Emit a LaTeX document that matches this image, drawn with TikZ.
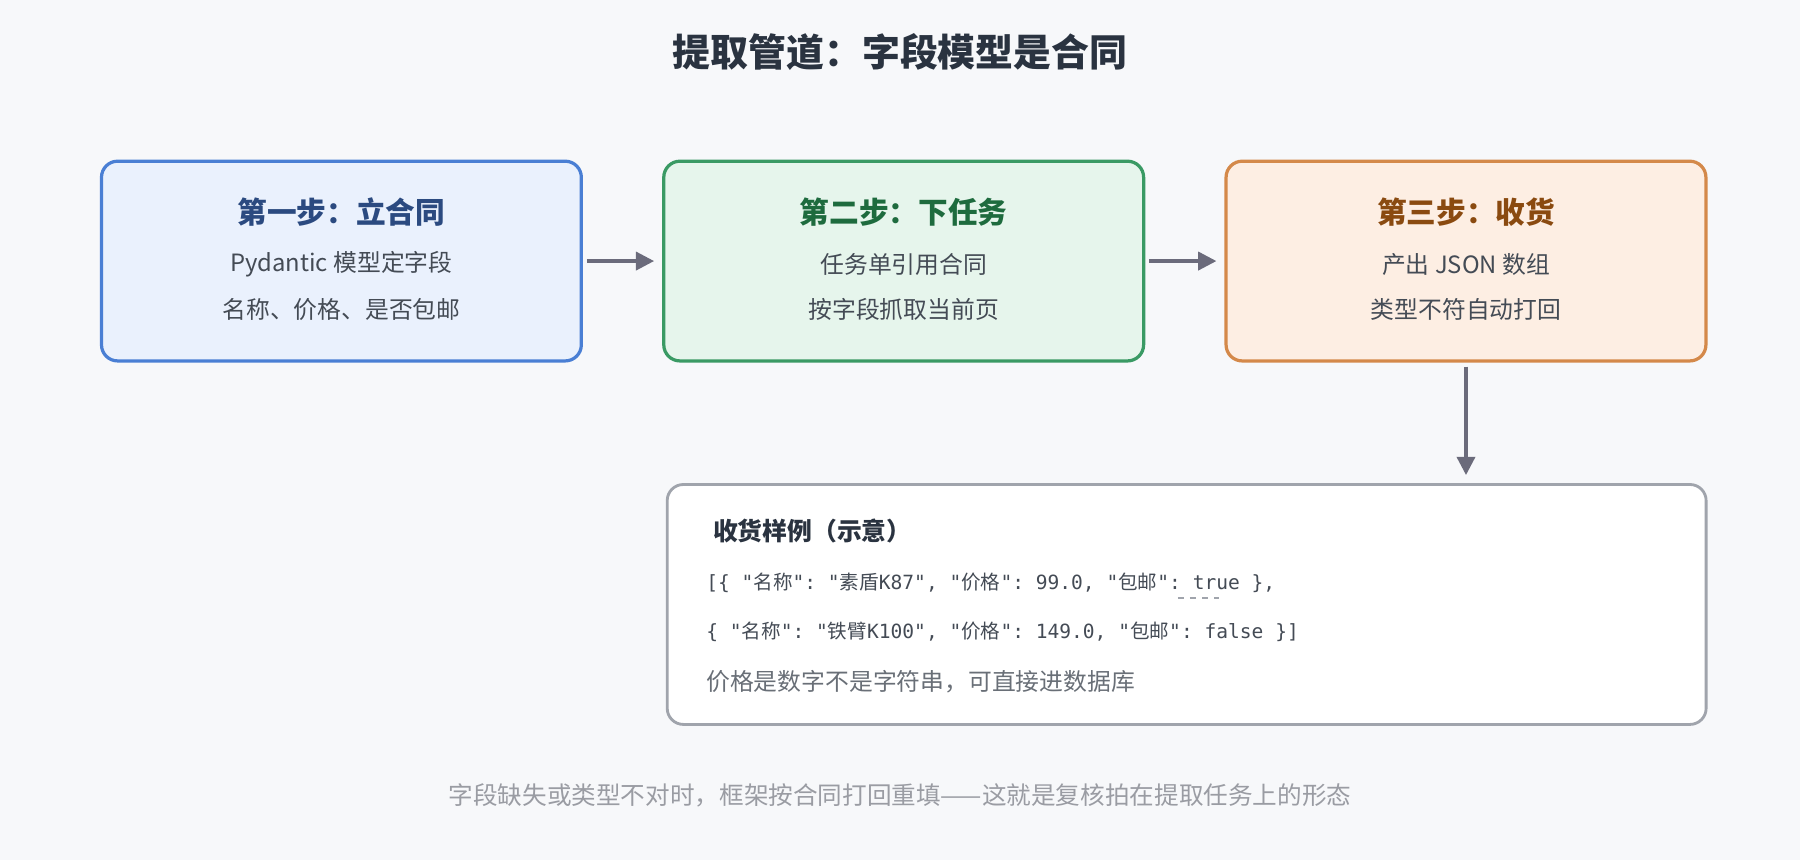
\documentclass[tikz,border=0pt]{standalone}
\usepackage{fontspec}
\setmainfont{Noto Sans CJK SC}
\setmonofont{DejaVu Sans Mono}
\newfontfamily\zhfont{Noto Sans CJK SC}
\newcommand{\zh}[1]{{\zhfont #1}}
\usetikzlibrary{arrows.meta, positioning, calc}

\definecolor{bgc}{HTML}{F7F8FA}
\definecolor{bluefill}{HTML}{EAF1FD}
\definecolor{bluedraw}{HTML}{4A7FD4}
\definecolor{bluetext}{HTML}{2B4A80}
\definecolor{greenfill}{HTML}{E6F5EC}
\definecolor{greendraw}{HTML}{3A9A64}
\definecolor{greentext}{HTML}{1E6B3E}
\definecolor{orangefill}{HTML}{FDEEE3}
\definecolor{orangedraw}{HTML}{D4894A}
\definecolor{orangetext}{HTML}{8A4A10}
\definecolor{arrowc}{HTML}{6B6B7B}
\definecolor{bodyc}{HTML}{444B55}
\definecolor{titlec}{HTML}{2A3340}
\definecolor{greyc}{HTML}{A0A4AC}
\definecolor{footc}{HTML}{9A9CA3}

\begin{document}
\begin{tikzpicture}[
    node distance=1.38cm,
    stepbox/.style={rectangle, rounded corners=8pt, line width=1.6pt, minimum width=8.36cm, minimum height=3.48cm},
    head/.style={font=\fontsize{14.7}{16}\selectfont\bfseries},
    body/.style={font=\fontsize{11.8}{14}\selectfont, text=bodyc},
    code/.style={font=\fontsize{9.7}{12}\ttfamily, text=bodyc, anchor=west, inner sep=0pt},
    arr/.style={-{Triangle[length=9pt,width=9pt]}, line width=1.6pt, draw=arrowc, shorten <=2pt, shorten >=4pt}
]
\fill[bgc] (0,0) rectangle (31.36,-14.98);
\useasboundingbox (0,0) rectangle (31.36,-14.98);

\node[font=\fontsize{18.8}{22}\selectfont\bfseries, text=titlec] (title) at (15.68,-0.9) {提取管道：字段模型是合同};

% three steps
\node[stepbox, draw=bluedraw, fill=bluefill, anchor=north west] (s1) at (1.74,-2.78) {};
\node[stepbox, draw=greendraw, fill=greenfill, right=of s1] (s2) {};
\node[stepbox, draw=orangedraw, fill=orangefill, right=of s2] (s3) {};

\foreach \s/\c/\h/\a/\b in {s1/bluetext/第一步：立合同/Pydantic 模型定字段/名称、价格、是否包邮,
    s2/greentext/第二步：下任务/任务单引用合同/按字段抓取当前页,
    s3/orangetext/第三步：收货/产出 JSON 数组/类型不符自动打回}{
  \node[head, text=\c] (\s h) at ($(\s.center)+(0,0.86)$) {\h};
  \node[body] (\s a) at ($(\s.center)+(0,-0.06)$) {\a};
  \node[body] (\s b) at ($(\s.center)+(0,-0.84)$) {\b};
}

% result sample
\node[rectangle, rounded corners=8pt, line width=1.4pt, draw=greyc, fill=white,
      minimum width=18.1cm, minimum height=4.18cm,
      below=2.1cm of s3.south east, anchor=north east] (res) {};
\node[anchor=west, font=\fontsize{12.3}{14}\selectfont\bfseries, text=titlec] (resh) at ($(res.north west)+(0.7,-0.84)$) {收货样例（示意）};
\node[code] (line1) at ($(res.north west)+(0.7,-1.74)$) {[\{ "\zh{名称}": "\zh{素盾}K87", "\zh{价格}": 99.0, "\zh{包邮}": true \},};
\node[code] (line2) at ($(res.north west)+(0.7,-2.6)$) {\{ "\zh{名称}": "\zh{铁臂}K100", "\zh{价格}": 149.0, "\zh{包邮}": false \}]};
\node[body, anchor=west, inner sep=0pt, text=bodyc!80] (note) at ($(res.north west)+(0.7,-3.46)$) {价格是数字不是字符串，可直接进数据库};
\draw[greyc, line width=1pt, dash pattern=on 3pt off 3pt] (20.52,-10.42) -- (21.24,-10.42);

% arrows
\draw[arr] (s1) -- (s2);
\draw[arr] (s2) -- (s3);
\draw[arr] (s3) -- (s3 |- res.north);

\node[font=\fontsize{12.2}{14}\selectfont, text=footc] (foot) at (15.68,-13.86) {字段缺失或类型不对时，框架按合同打回重填——这就是复核拍在提取任务上的形态};
\end{tikzpicture}
\end{document}
